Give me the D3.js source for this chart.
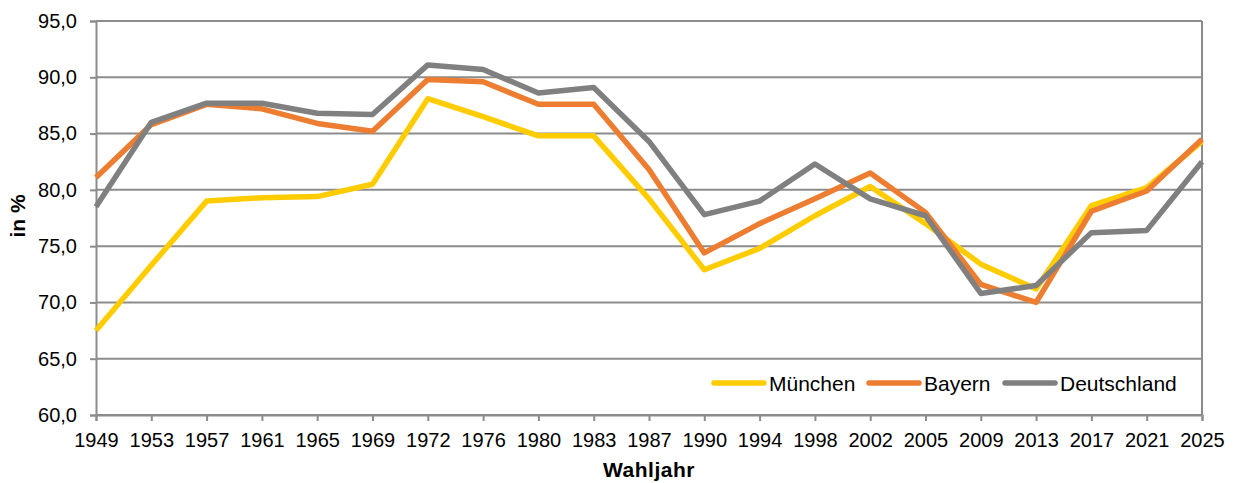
<!DOCTYPE html>
<html>
<head>
<meta charset="utf-8">
<script src="https://cdn.jsdelivr.net/npm/d3@7"></script>
<style>
  body { margin: 0; background: #fff; }
  text { font-family: "Liberation Sans", Arial, sans-serif; fill: #000; }
  .axisTitle { font-weight: bold; font-size: 21px; }
</style>
</head>
<body>
<div id="chart"></div>
<script>
var years = ["1949","1953","1957","1961","1965","1969","1972","1976","1980","1983","1987",
  "1990","1994","1998","2002","2005","2009","2013","2017","2021","2025"];
var muenchen = [67.5,73.3,79.0,79.3,79.4,80.5,88.1,86.5,84.8,84.8,79.2,72.9,74.8,77.7,80.3,77.0,73.4,71.2,78.6,80.2,84.3];
var bayern = [81.1,85.8,87.6,87.2,85.9,85.2,89.8,89.6,87.6,87.6,81.8,74.4,77.0,79.2,81.5,78.0,71.6,70.0,78.1,79.9,84.5];
var deutschland = [78.5,86.0,87.7,87.7,86.8,86.7,91.1,90.7,88.6,89.1,84.3,77.8,79.0,82.3,79.2,77.7,70.8,71.5,76.2,76.4,82.5];
var seriesNames = ["München", "Bayern", "Deutschland"];
var seriesColors = ["#ffcc00", "#ed7d31", "#808080"];
var yTicks = [60, 65, 70, 75, 80, 85, 90, 95];

var svgWidth = 1235;
var svgHeight = 483;
var margin = { top: 21, right: 33, bottom: 68, left: 96 };
var width = svgWidth - margin.left - margin.right;
var height = svgHeight - margin.top - margin.bottom;

var svg = d3.select("#chart")
  .append("svg")
  .attr("width", svgWidth)
  .attr("height", svgHeight);

var chartGroup = svg.append("g")
  .attr("transform", `translate(${margin.left}, ${margin.top})`);

var xScale = d3.scalePoint().domain(years).range([0, width]);
var yScale = d3.scaleLinear().domain([60, 95]).range([height, 0]);

var gridColor = "#8c8c8c";

// gridlines
chartGroup.append("g")
  .selectAll("line")
  .data(yTicks)
  .enter()
  .append("line")
  .attr("x1", 0)
  .attr("x2", width)
  .attr("y1", d => yScale(d))
  .attr("y2", d => yScale(d))
  .attr("stroke", gridColor)
  .attr("stroke-width", 2);

// right frame
chartGroup.append("line")
  .attr("x1", width).attr("x2", width)
  .attr("y1", 0).attr("y2", height)
  .attr("stroke", gridColor)
  .attr("stroke-width", 2);

var fmt = d => d.toFixed(1).replace(".", ",");

var leftAxis = d3.axisLeft(yScale).tickValues(yTicks).tickFormat(fmt).tickSize(6).tickPadding(13);
var bottomAxis = d3.axisBottom(xScale).tickSize(6).tickPadding(12);

var yAxisG = chartGroup.append("g").call(leftAxis);
var xAxisG = chartGroup.append("g")
  .attr("transform", `translate(0, ${height})`)
  .call(bottomAxis);

[yAxisG, xAxisG].forEach(function(g) {
  g.select(".domain").attr("stroke", gridColor).attr("stroke-width", 2);
  g.selectAll(".tick line").attr("stroke", gridColor).attr("stroke-width", 2);
  g.selectAll(".tick text")
    .style("font-family", '"Liberation Sans", Arial, sans-serif')
    .style("font-size", "20px")
    .attr("fill", "#000");
});

// lines
var allSeries = [muenchen, bayern, deutschland];
var line = d3.line()
  .x((d, i) => xScale(years[i]))
  .y(d => yScale(d));

chartGroup.selectAll(".series")
  .data(allSeries)
  .enter()
  .append("path")
  .attr("class", "series")
  .attr("d", d => line(d))
  .attr("fill", "none")
  .attr("stroke", (d, i) => seriesColors[i])
  .attr("stroke-width", 5.5)
  .attr("stroke-linejoin", "round");

// legend
var legendX = [712, 867, 1003];
var legend = svg.append("g");
seriesNames.forEach(function(name, i) {
  legend.append("line")
    .attr("x1", legendX[i] + 2).attr("x2", legendX[i] + 52)
    .attr("y1", 383).attr("y2", 383)
    .attr("stroke", seriesColors[i])
    .attr("stroke-width", 5.5)
    .attr("stroke-linecap", "round");
  legend.append("text")
    .attr("x", legendX[i] + 57)
    .attr("y", 390.5)
    .style("font-size", "21px")
    .text(name);
});

// axis titles
svg.append("text")
  .attr("class", "axisTitle")
  .attr("transform", "translate(25, 216) rotate(-90)")
  .attr("text-anchor", "middle")
  .text("in %");

svg.append("text")
  .attr("class", "axisTitle")
  .attr("x", margin.left + width / 2)
  .attr("y", 477)
  .attr("text-anchor", "middle")
  .style("letter-spacing", "0.5px")
  .text("Wahljahr");
</script>
</body>
</html>
